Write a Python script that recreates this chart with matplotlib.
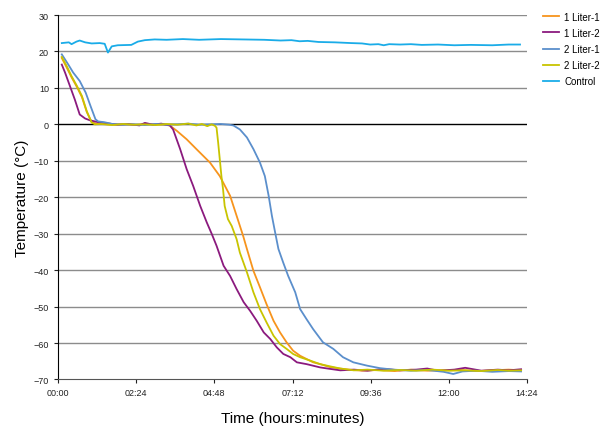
import matplotlib
matplotlib.use('Agg')
import matplotlib.pyplot as plt
from matplotlib.ticker import FuncFormatter

plt.rcParams['font.family'] = ['Liberation Sans', 'DejaVu Sans']

# Time in minutes, temperature in degrees C
t_l1_1 = [7, 16, 25, 35, 44, 53, 62, 70, 85, 100, 120, 140, 160, 180, 195, 206, 219, 237, 255,
          280, 298, 317, 329, 341, 348, 360, 372, 384, 397, 409, 421, 433, 446, 458, 470,
          483, 501, 519, 536, 560, 590, 620, 650, 680, 710, 740, 770, 800, 830, 853]
l1_1 = [18.2, 15.6, 12.9, 10.2, 7.5, 3.4, 0.6, 0.2, 0.1, -0.1, 0.0, -0.2, 0.1, 0.0, -0.1, -0.3,
        -1.8, -4.1, -6.8, -10.5, -14.2, -19.6, -25.1, -30.6, -34.2, -40.2, -44.7, -49.3,
        -53.9, -57.1, -59.8, -62.1, -63.5, -64.4, -65.3, -65.8, -66.6, -67.0, -67.3, -67.6,
        -67.4, -67.7, -67.3, -67.6, -67.5, -67.4, -67.7, -67.5, -67.3, -67.5]

t_l1_2 = [7, 13, 22, 31, 40, 50, 59, 74, 90, 110, 130, 150, 160, 175, 190, 206, 212, 225, 237,
          249, 262, 274, 283, 292, 305, 317, 329, 342, 354, 366, 379, 391, 403, 415, 428, 440,
          458, 483, 501, 520, 545, 570, 600, 630, 660, 680, 700, 730, 750, 780, 810, 830, 853]
l1_2 = [16.4, 14.2, 10.5, 6.8, 2.7, 1.6, 1.1, 0.6, 0.3, -0.1, 0.1, -0.3, 0.4, -0.1, 0.2, -0.3,
        -1.4, -6.8, -12.3, -16.9, -22.4, -26.9, -30.0, -33.3, -38.8, -41.6, -45.2, -48.8,
        -51.2, -53.9, -57.1, -58.9, -61.2, -63.0, -63.9, -65.3, -65.8, -66.7, -67.1, -67.5,
        -67.3, -67.6, -67.1, -67.5, -67.3, -67.0, -67.6, -67.3, -66.8, -67.6, -67.3, -67.5, -67.2]

t_l2_1 = [7, 19, 28, 40, 51, 60, 69, 74, 85, 100, 120, 140, 160, 180, 200, 220, 240, 260, 280,
          300, 315, 323, 335, 348, 360, 372, 381, 388, 394, 400, 406, 415, 424, 437, 446, 458,
          470, 488, 507, 525, 544, 569, 593, 618, 650, 680, 710, 728, 745, 770, 800, 830, 853]
l2_1 = [19.2, 16.4, 14.2, 11.9, 8.7, 5.0, 1.4, 0.8, 0.6, 0.1, -0.1, 0.0, -0.2, 0.1, -0.1, 0.0,
        0.2, -0.1, 0.0, 0.1, -0.1, -0.3, -1.4, -3.6, -6.8, -10.5, -14.2, -19.6, -25.1, -29.7,
        -34.2, -38.0, -41.6, -46.1, -50.7, -53.5, -56.2, -59.8, -61.6, -63.9, -65.3, -66.2,
        -66.9, -67.3, -67.6, -67.4, -67.9, -68.5, -67.8, -67.6, -67.9, -67.7, -67.8]

t_l2_2 = [7, 16, 25, 35, 44, 53, 62, 68, 80, 100, 120, 140, 160, 180, 200, 220, 240, 255, 265,
          275, 283, 289, 292, 295, 298, 301, 304, 307, 313, 320, 329, 335, 348, 360, 372, 384,
          397, 409, 421, 433, 446, 464, 483, 501, 520, 545, 570, 600, 630, 660, 690, 720, 750,
          780, 810, 830, 853]
l2_2 = [18.5, 16.0, 13.2, 10.5, 7.8, 3.6, 0.5, 0.0, 0.1, -0.2, 0.1, -0.1, 0.0, -0.2, 0.1, -0.1,
        0.2, -0.3, 0.1, -0.5, 0.0, -0.4, -0.9, -5.0, -9.6, -14.2, -17.8, -22.4, -26.0, -27.9,
        -31.5, -35.2, -40.6, -46.1, -50.7, -54.3, -58.0, -60.3, -61.6, -63.0, -63.9, -64.8,
        -65.8, -66.4, -67.0, -67.5, -67.3, -67.6, -67.4, -67.6, -67.3, -67.6, -67.5, -67.7,
        -67.4, -67.6, -67.5]

t_ctrl = [7, 20, 25, 34, 40, 50, 62, 77, 86, 92, 99, 110, 135, 147, 160, 178, 200, 230, 260,
          300, 340, 380, 410, 430, 445, 460, 480, 510, 540, 560, 575, 590, 600, 610, 630, 650,
          670, 700, 730, 760, 800, 830, 851]
ctrl = [22.3, 22.5, 22.0, 22.7, 23.0, 22.5, 22.2, 22.3, 22.1, 19.7, 21.4, 21.7, 21.8, 22.7,
        23.1, 23.3, 23.2, 23.4, 23.2, 23.4, 23.3, 23.2, 23.0, 23.1, 22.8, 22.9, 22.6, 22.5,
        22.3, 22.2, 21.9, 22.0, 21.7, 22.0, 21.9, 22.0, 21.8, 21.9, 21.7, 21.8, 21.7, 21.9, 21.9]

series = [
    ('1 Liter-1', t_l1_1, l1_1, '#F7941D'),
    ('1 Liter-2', t_l1_2, l1_2, '#8B1A7E'),
    ('2 Liter-1', t_l2_1, l2_1, '#5B8FCC'),
    ('2 Liter-2', t_l2_2, l2_2, '#C8C400'),
    ('Control', t_ctrl, ctrl, '#1AACE8'),
]

fig = plt.figure(figsize=(6.01, 4.27), dpi=100)
ax = fig.add_axes([0.0965, 0.109, 0.7805, 0.8535])

for y in range(-60, 31, 10):
    if y == 0:
        ax.axhline(y, color='black', lw=1.0, zorder=1)
    else:
        ax.axhline(y, color='#8c8c8c', lw=1.0, zorder=1)

for name, t, v, c in series:
    ax.plot(t, v, color=c, lw=1.3, label=name, zorder=3)

ax.set_xlim(0, 864)
ax.set_ylim(-70, 30)
ax.set_xticks(range(0, 865, 144))
ax.xaxis.set_major_formatter(FuncFormatter(lambda m, p: '%02d:%02d' % (m // 60, m % 60)))
ax.set_yticks(range(-70, 31, 10))

for s in ['top', 'right']:
    ax.spines[s].set_visible(False)
ax.spines['left'].set_color('black')
ax.spines['bottom'].set_color('#555555')
ax.tick_params(labelsize=6.5, colors='#222222', length=3, width=0.8)
ax.set_ylabel('Temperature (°C)', fontsize=11, labelpad=3)
ax.set_xlabel('Time (hours:minutes)', fontsize=11, labelpad=10)

fig.legend(loc='upper left', bbox_to_anchor=(0.897, 0.979), frameon=False, fontsize=7,
           handlelength=1.6, handletextpad=0.6, labelspacing=0.62, borderaxespad=0)

fig.savefig('out.png', dpi=100)
